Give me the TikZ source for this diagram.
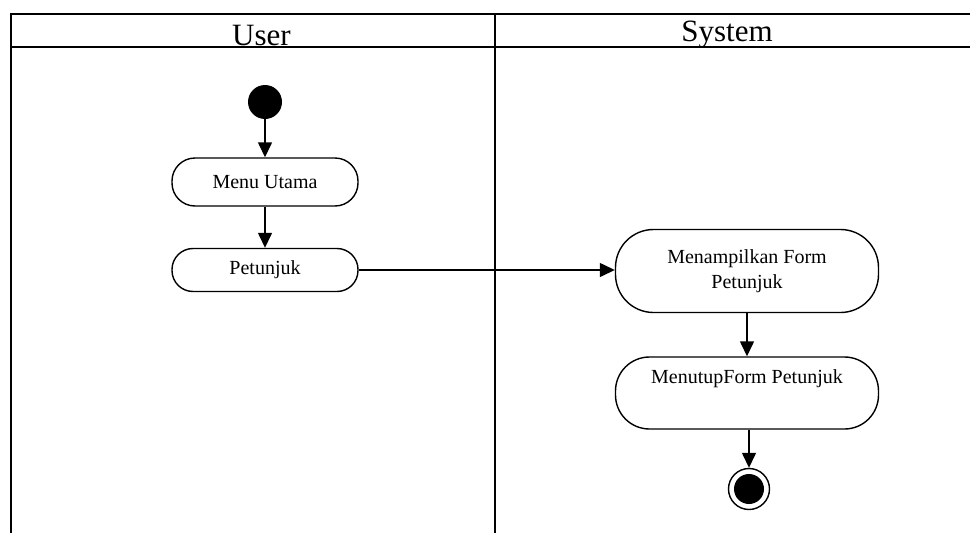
\documentclass[tikz,border=0pt]{standalone}
\usepackage{fontspec}
\setmainfont{Liberation Serif}
\usetikzlibrary{arrows.meta}
\begin{document}
\begin{tikzpicture}[x=1pt,y=-1pt,
  lane/.style={line width=1.6pt},
  act/.style={draw,line width=1.4pt,rectangle,inner sep=0pt,align=center,font=\fontsize{20}{25}\selectfont},
  arr/.style={line width=1.4pt,-{Triangle[length=15pt,width=14pt]}},
  hdr/.style={inner sep=0pt,anchor=base,font=\fontsize{31}{36}\selectfont}]
\useasboundingbox (0,0) rectangle (970,533);
% swimlanes
\draw[lane] (11,533) -- (11,14) -- (970,14);
\draw[lane] (11,47) -- (970,47);
\draw[lane] (495,14) -- (495,533);
\node[hdr] (huser) at (261.5,45.5) {User};
\node[hdr] (hsys) at (727,41.5) {System};
% nodes
\node[circle,fill=black,minimum size=34pt,inner sep=0pt] (start) at (265,102) {};
\node[act,minimum width=186pt,minimum height=48pt,rounded corners=23pt] (menu) at (265,182) {Menu Utama};
\node[act,minimum width=186pt,minimum height=43pt,rounded corners=21pt] (pet) at (265,270) {Petunjuk};
\node[act,minimum width=263pt,minimum height=83pt,rounded corners=38pt] (tamp) at (747,271) {Menampilkan Form\\Petunjuk};
\node[act,minimum width=263pt,minimum height=72pt,rounded corners=34pt] (tutup) at (747,393) {MenutupForm Petunjuk\\\strut};
\node[circle,draw,line width=1.4pt,minimum size=41pt,inner sep=0pt] (end) at (749,489) {};
\node[circle,fill=black,minimum size=30pt,inner sep=0pt] (endin) at (end.center) {};
% connectors
\draw[arr] (start) -- (menu);
\draw[arr] (menu) -- (pet);
\draw[arr] (pet.east) -- (tamp.west |- pet.east);
\draw[arr] (tamp) -- (tutup);
\draw[arr] (tutup.south -| end.north) -- (end.north);
\end{tikzpicture}
\end{document}
